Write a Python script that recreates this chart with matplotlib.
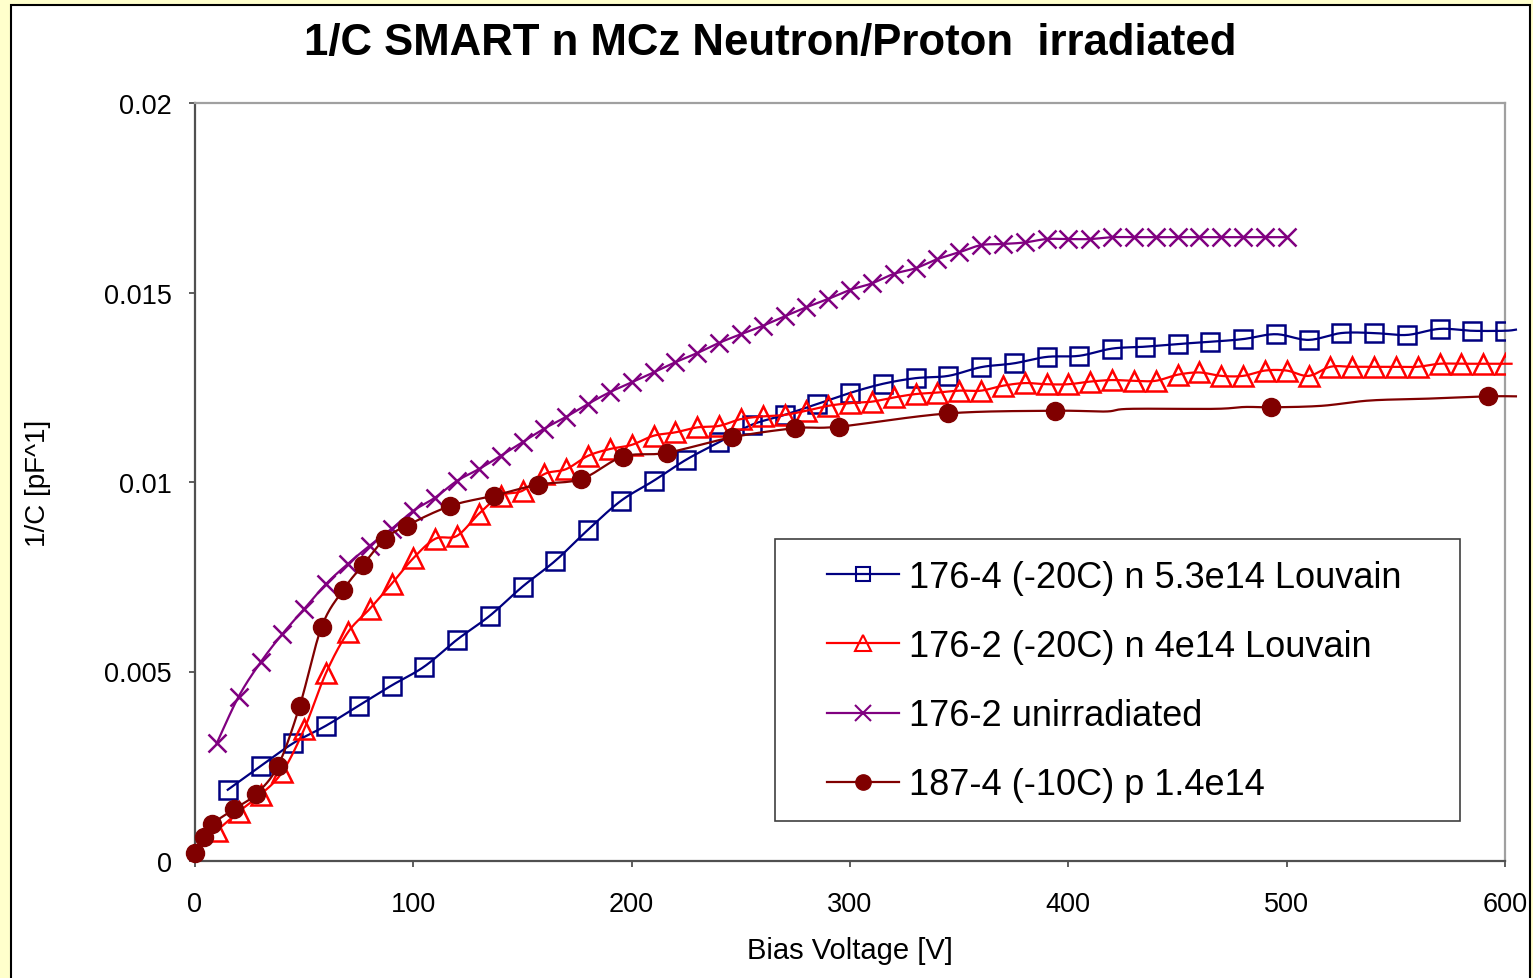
import numpy as np
import matplotlib
matplotlib.use("Agg")
import matplotlib.pyplot as plt
from matplotlib.patches import Rectangle
from matplotlib.lines import Line2D

plt.rcParams['font.family'] = ['Liberation Sans', 'DejaVu Sans']

# ---------------- data ----------------
title = "1/C SMART n MCz Neutron/Proton  irradiated"
x_label = "Bias Voltage [V]"
y_label = "1/C [pF^1]"
x_ticks = [0, 100, 200, 300, 400, 500, 600]
y_ticks = [0, 0.005, 0.01, 0.015, 0.02]
y_tick_labels = ["0", "0.005", "0.01", "0.015", "0.02"]

labels = ["176-4 (-20C) n 5.3e14 Louvain",
          "176-2 (-20C) n 4e14 Louvain",
          "176-2 unirradiated",
          "187-4 (-10C) p 1.4e14"]

blue_v = [15, 30, 45, 60, 75, 90, 105, 120, 135, 150, 165, 180, 195, 210, 225,
          240, 255, 270, 285, 300, 315, 330, 345, 360, 375, 390, 405, 420, 435,
          450, 465, 480, 495, 510, 525, 540, 555, 570, 585, 600]
blue_c = [0.00188, 0.00250, 0.00311, 0.00357, 0.00410, 0.00463, 0.00513, 0.00584,
          0.00647, 0.00724, 0.00792, 0.00874, 0.00950, 0.01003, 0.01059, 0.01105,
          0.01151, 0.01177, 0.01206, 0.01235, 0.01259, 0.01274, 0.01280, 0.01303,
          0.01313, 0.01330, 0.01333, 0.01352, 0.01357, 0.01364, 0.01370, 0.01377,
          0.01390, 0.01375, 0.01393, 0.01393, 0.01388, 0.01404, 0.01399, 0.01399]
blue_tail_v = [605]
blue_tail_c = [0.01402]

red_v = [10, 20, 30, 40, 50, 60, 70, 80, 90, 100, 110, 120, 130, 140, 150, 160,
         170, 180, 190, 200, 210, 220, 230, 240, 250, 260, 270, 280, 290, 300,
         310, 320, 330, 340, 350, 360, 370, 380, 390, 400, 410, 420, 430, 440,
         450, 460, 470, 480, 490, 500, 510, 520, 530, 540, 550, 560, 570, 580,
         590, 600]
red_c = [0.00080, 0.00130, 0.00175, 0.00235, 0.00348, 0.00496, 0.00603, 0.00665,
         0.00731, 0.00799, 0.00850, 0.00858, 0.00916, 0.00964, 0.00977, 0.01021,
         0.01034, 0.01069, 0.01087, 0.01098, 0.01122, 0.01131, 0.01144, 0.01148,
         0.01166, 0.01173, 0.01177, 0.01188, 0.01201, 0.01208, 0.01212, 0.01223,
         0.01232, 0.01236, 0.01241, 0.01241, 0.01254, 0.01261, 0.01258, 0.01258,
         0.01265, 0.01269, 0.01267, 0.01267, 0.01283, 0.01289, 0.01280, 0.01280,
         0.01294, 0.01294, 0.01280, 0.01304, 0.01304, 0.01304, 0.01304, 0.01304,
         0.01312, 0.01312, 0.01312, 0.01312]
red_tail_v = [603]
red_tail_c = [0.01312]

purple_v = [10, 20, 30, 40, 50, 60, 70, 80, 90, 100, 110, 120, 130, 140, 150,
            160, 170, 180, 190, 200, 210, 220, 230, 240, 250, 260, 270, 280, 290,
            300, 310, 320, 330, 340, 350, 360, 370, 380, 390, 400, 410, 420, 430,
            440, 450, 460, 470, 480, 490, 500]
purple_c = [0.00311, 0.00434, 0.00524, 0.00599, 0.00665, 0.00731, 0.00784, 0.00832,
            0.00876, 0.00924, 0.00959, 0.01003, 0.01034, 0.01069, 0.01105, 0.01141,
            0.01172, 0.01206, 0.01237, 0.01263, 0.01289, 0.01316, 0.01340, 0.01367,
            0.01390, 0.01412, 0.01437, 0.01461, 0.01483, 0.01507, 0.01524, 0.01549,
            0.01564, 0.01588, 0.01606, 0.01625, 0.01628, 0.01632, 0.01641, 0.01641,
            0.01641, 0.01646, 0.01646, 0.01646, 0.01646, 0.01646, 0.01646, 0.01646,
            0.01646, 0.01646]

maroon_v = [0, 4, 8, 18, 28, 38, 48, 58, 68, 77, 87, 97, 117, 137, 157, 177, 196,
            216, 246, 275, 295, 345, 394, 493, 592]
maroon_c = [0.00021, 0.00063, 0.00098, 0.00137, 0.00177, 0.00251, 0.00410, 0.00618,
            0.00716, 0.00782, 0.00850, 0.00885, 0.00937, 0.00964, 0.00993, 0.01008,
            0.01067, 0.01077, 0.01118, 0.01142, 0.01146, 0.01181, 0.01188, 0.01197,
            0.01226]
# extra (marker-less) points of the maroon trace
maroon_line_v = [417, 428, 467, 481, 516, 538, 565, 605]
maroon_line_c = [0.01186, 0.01193, 0.01193, 0.01198, 0.01201, 0.01215, 0.01220, 0.01226]

colors = ["#000080", "#FF0000", "#800080", "#800000"]


def excel_smooth(x, y, n=16):
    """Excel-like smoothed line (Catmull-Rom Bezier)."""
    p = np.column_stack([np.asarray(x, float), np.asarray(y, float)])
    m = len(p)
    if m < 3:
        return p[:, 0], p[:, 1]
    out = [p[0]]
    t = np.linspace(0, 1, n + 1)[1:][:, None]
    for i in range(m - 1):
        p0 = p[i - 1] if i > 0 else p[i]
        p1, p2 = p[i], p[i + 1]
        p3 = p[i + 2] if i + 2 < m else p[i + 1]
        c1 = p1 + (p2 - p0) / 6.0
        c2 = p2 - (p3 - p1) / 6.0
        seg = ((1 - t) ** 3) * p1 + 3 * ((1 - t) ** 2) * t * c1 + 3 * (1 - t) * t ** 2 * c2 + t ** 3 * p2
        out.extend(seg)
    out = np.array(out)
    return out[:, 0], out[:, 1]


# ---------------- figure ----------------
W, H = 1533, 979
fig = plt.figure(figsize=(W / 100, H / 100), dpi=100, facecolor="#FFFFCC")

# white chart area with black border
fig.patches.append(Rectangle((11 / W, -0.05), (1530 - 11) / W, 1 - 6 / H + 0.05,
                             transform=fig.transFigure, facecolor="white",
                             edgecolor="black", linewidth=1.5, zorder=-10))

ax = fig.add_axes([195 / W, 1 - 862 / H, (1505 - 195) / W, (862 - 104) / H])
ax.set_zorder(1)
ax.set_facecolor("white")
ax.set_xlim(0, 600)
ax.set_ylim(0, 0.02)

lw = 1.6
mew = 1.8

# blue squares
xs, ys = excel_smooth(blue_v + blue_tail_v, blue_c + blue_tail_c)
ax.plot(xs, ys, color=colors[0], lw=lw, zorder=3, clip_on=False)
ax.plot(blue_v, blue_c, ls="none", marker="s", ms=12.5, mfc="none",
        mec=colors[0], mew=mew, zorder=3)

# red triangles
xs, ys = excel_smooth(red_v + red_tail_v, red_c + red_tail_c)
ax.plot(xs, ys, color=colors[1], lw=lw, zorder=3, clip_on=False)
ax.plot(red_v, red_c, ls="none", marker="^", ms=14, mfc="none",
        mec=colors[1], mew=mew, zorder=3)

# purple crosses
xs, ys = excel_smooth(purple_v, purple_c)
ax.plot(xs, ys, color=colors[2], lw=lw, zorder=3)
ax.plot(purple_v, purple_c, ls="none", marker="x", ms=13, mec=colors[2],
        mew=mew, zorder=3)

# maroon dots
mv = maroon_v + maroon_line_v
mc = maroon_c + maroon_line_c
order = np.argsort(mv)
xs, ys = excel_smooth(np.array(mv)[order], np.array(mc)[order])
ax.plot(xs, ys, color=colors[3], lw=lw, zorder=3, clip_on=False)
ax.plot(maroon_v, maroon_c, ls="none", marker="o", ms=13, mfc=colors[3],
        mec=colors[3], zorder=4, clip_on=False)

# axes styling
for side in ["left", "bottom"]:
    ax.spines[side].set_color("#505050")
    ax.spines[side].set_linewidth(1.6)
for side in ["top", "right"]:
    ax.spines[side].set_color("#A0A0A0")
    ax.spines[side].set_linewidth(1.6)

ax.set_xticks(x_ticks)
ax.set_xticklabels([str(v) for v in x_ticks])
ax.set_yticks(y_ticks)
ax.set_yticklabels(y_tick_labels)
ax.tick_params(axis="both", direction="out", length=4.5, width=1.3,
               color="#505050", labelsize=19.5)
ax.tick_params(axis="y", pad=12)
ax.tick_params(axis="x", pad=17)

fig.text(770 / W, 1 - 44 / H, title, ha="center", va="center",
         fontsize=31.5, fontweight="bold")
fig.text(850 / W, 1 - 951 / H, x_label, ha="center", va="center", fontsize=21)
fig.text(38 / W, 1 - 483 / H, y_label, ha="center", va="center", fontsize=20,
         rotation=90)

# legend frame
ax.add_patch(Rectangle(((775 - 195) / 1310, (862 - 822) / 758),
                       (1460 - 775) / 1310, (822 - 540) / 758,
                       transform=ax.transAxes, facecolor="white",
                       edgecolor="#404040", linewidth=1.2, zorder=5))

handles = [
    Line2D([], [], color=colors[0], lw=lw, marker="s", ms=10, mfc="none", mec=colors[0], mew=1.5),
    Line2D([], [], color=colors[1], lw=lw, marker="^", ms=11, mfc="none", mec=colors[1], mew=1.5),
    Line2D([], [], color=colors[2], lw=lw, marker="x", ms=11, mec=colors[2], mew=1.5),
    Line2D([], [], color=colors[3], lw=lw, marker="o", ms=11, mfc=colors[3], mec=colors[3]),
]
leg = ax.legend(handles, labels, loc="center left",
                bbox_to_anchor=((827 - 195) / 1310, (862 - 682) / 758),
                frameon=False, fontsize=26, borderpad=0, borderaxespad=0,
                handlelength=2.0, handletextpad=0.28, labelspacing=0.95)
leg.set_zorder(6)

fig.savefig("out.png", dpi=100, facecolor=fig.get_facecolor())
